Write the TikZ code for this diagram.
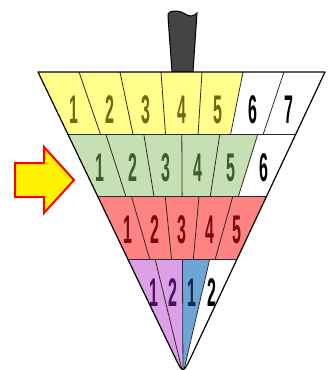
\documentclass[tikz,border=0pt]{standalone}
\usepackage{fontspec}
\usepackage{graphicx}
\newfontfamily\digitfont{Liberation Sans}
\usetikzlibrary{calc}
\definecolor{yelfill}{HTML}{FFFF8A}
\definecolor{yeltext}{HTML}{6B6B12}
\definecolor{grnfill}{HTML}{C6E0B4}
\definecolor{grntext}{HTML}{3B5E2A}
\definecolor{redfill}{HTML}{FF8383}
\definecolor{redtext}{HTML}{7A0A0A}
\definecolor{purfill}{HTML}{DCA0E6}
\definecolor{purtext}{HTML}{4A1060}
\definecolor{blufill}{HTML}{6EA5D7}
\definecolor{blutext}{HTML}{1A2A44}
\definecolor{handlegrey}{HTML}{444444}
\definecolor{linedark}{HTML}{2B2B2B}
\tikzset{
  digit/.style={font=\digitfont\bfseries\fontsize{40}{40}\selectfont, inner sep=0pt},
  cellline/.style={draw=linedark, line width=0.8pt},
  bandline/.style={draw=linedark, line width=1pt},
  coneline/.style={draw=black, line width=1.2pt, line join=round},
  handle/.style={fill=handlegrey, draw=black, line width=1pt},
  pointer/.style={fill=yellow, draw=red, line width=2pt, line join=miter},
}

\begin{document}
\begin{tikzpicture}[x=1pt, y=-1pt]
  \useasboundingbox (0,0) rectangle (329,370);

  % --- Cone corners ---
  \coordinate (tip) at (183,374);
  \coordinate (l0) at (38,72);
  \coordinate (r0) at (325,72);
  \coordinate (l1) at ($(l0)!0.2053!(tip)$);
  \coordinate (r1) at ($(r0)!0.2053!(tip)$);
  \coordinate (l2) at ($(l0)!0.4139!(tip)$);
  \coordinate (r2) at ($(r0)!0.4139!(tip)$);
  \coordinate (l3) at ($(l0)!0.6192!(tip)$);
  \coordinate (r3) at ($(r0)!0.6192!(tip)$);
  \coordinate (lc) at ($(l0)!0.94!(tip)$);
  \coordinate (rc) at ($(r0)!0.94!(tip)$);

  % --- Handle ---
  \filldraw[handle] (168,17) .. controls (167,12) and (171,11) .. (176,11)
    .. controls (183,11) and (186,16) .. (191,16)
    .. controls (194,16) and (196,14) .. (197,13) -- (193,72) -- (172,72) -- cycle;

  \begin{scope}
    \clip (l0) -- (r0) -- (rc) .. controls (tip) .. (lc) -- cycle;

    % Band 1
    \foreach \col/\txt/\lab [count=\i] in {yelfill/yeltext/1, yelfill/yeltext/2,
        yelfill/yeltext/3, yelfill/yeltext/4, yelfill/yeltext/5, white/black/6, white/black/7}{
      \fill[\col] ($(l0)!\i/7-1/7!(r0)$) -- ($(l0)!\i/7!(r0)$)
        -- ($(l1)!\i/7!(r1)$) -- ($(l1)!\i/7-1/7!(r1)$) -- cycle;
      \node[digit, text=\txt] (yel\i) at ($($(l0)!\i/7-1/14!(r0)$)!0.61!($(l1)!\i/7-1/14!(r1)$)$)
        {\scalebox{0.4}[1]{\lab}};
    }
    % Band 2
    \foreach \col/\txt/\lab [count=\i] in {grnfill/grntext/1, grnfill/grntext/2,
        grnfill/grntext/3, grnfill/grntext/4, grnfill/grntext/5, white/black/6}{
      \fill[\col] ($(l1)!\i/6-1/6!(r1)$) -- ($(l1)!\i/6!(r1)$)
        -- ($(l2)!\i/6!(r2)$) -- ($(l2)!\i/6-1/6!(r2)$) -- cycle;
      \node[digit, text=\txt] (grn\i) at ($($(l1)!\i/6-1/12!(r1)$)!0.54!($(l2)!\i/6-1/12!(r2)$)$)
        {\scalebox{0.4}[1]{\lab}};
    }
    % Band 3
    \foreach \lab [count=\i] in {1,...,5}{
      \fill[redfill] ($(l2)!\i/5-1/5!(r2)$) -- ($(l2)!\i/5!(r2)$)
        -- ($(l3)!\i/5!(r3)$) -- ($(l3)!\i/5-1/5!(r3)$) -- cycle;
      \node[digit, text=redtext] (red\i) at ($($(l2)!\i/5-1/10!(r2)$)!0.53!($(l3)!\i/5-1/10!(r3)$)$)
        {\scalebox{0.4}[1]{\lab}};
    }
    % Band 4
    \foreach \col/\txt/\lab [count=\i] in {purfill/purtext/1, purfill/purtext/2,
        blufill/blutext/1, white/black/2}{
      \fill[\col] ($(l3)!\i/4-1/4!(r3)$) -- ($(l3)!\i/4!(r3)$) -- (tip) -- cycle;
      \node[digit, text=\txt] (bot\i) at ($($(l3)!\i/4-1/8!(r3)$)!0.29!(tip)$)
        {\scalebox{0.4}[1]{\lab}};
    }

    % --- Dividers ---
    \foreach \i in {1,...,6}
      \draw[cellline] ($(l0)!\i/7!(r0)$) -- ($(l1)!\i/7!(r1)$);
    \foreach \i in {1,...,5}
      \draw[cellline] ($(l1)!\i/6!(r1)$) -- ($(l2)!\i/6!(r2)$);
    \foreach \i in {1,...,4}
      \draw[cellline] ($(l2)!\i/5!(r2)$) -- ($(l3)!\i/5!(r3)$);
    \foreach \i in {1,...,3}
      \draw[cellline] ($(l3)!\i/4!(r3)$) -- (tip);
    \draw[bandline] (l1) -- (r1);
    \draw[bandline] (l2) -- (r2);
    \draw[bandline] (l3) -- (r3);
  \end{scope}

  % --- Cone outline ---
  \draw[coneline] (l0) -- (r0) -- (rc) .. controls (tip) .. (lc) -- cycle;

  % --- Pointer ---
  \filldraw[pointer] (15,163) -- (44,163) -- (44,147) -- (74,180)
    -- (44,213) -- (44,197) -- (15,197) -- cycle;
\end{tikzpicture}
\end{document}
